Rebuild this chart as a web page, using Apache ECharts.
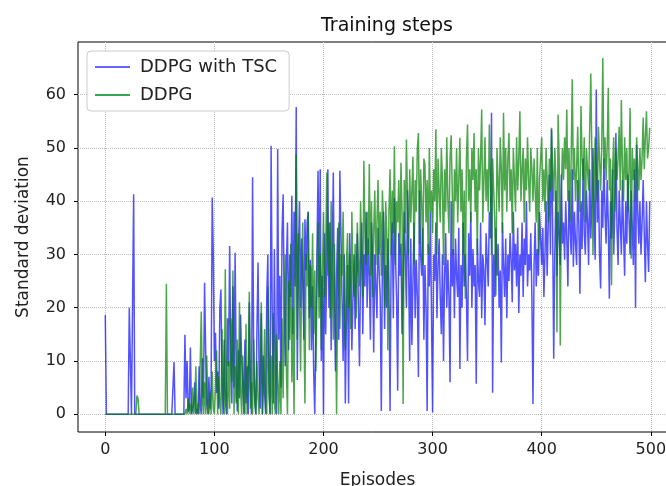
<!DOCTYPE html>
<html>
<head>
<meta charset="utf-8">
<script src="https://cdn.jsdelivr.net/npm/echarts@6/dist/echarts.min.js"></script>
<style>
  html,body{margin:0;padding:0;background:#fff;}
  #chart{width:666px;height:486px;}
</style>
</head>
<body>
<div id="chart"></div>
<script>
// one value per episode (0..499)
var tscValues = [
  18.6,0,0,0,0,0,0,0,0,0,
  0,0,0,0,0,0,0,0,0,0,
  0,0,20,19.8,0,0,41.3,0,0,0,
  0,0,0,0,0,0,0,0,0,0,
  0,0,0,0,0,0,0,0,0,0,
  0,0,0,0,0,0,0,0,0,0,
  0,0,0,9.8,0,0,0,0,0,0,
  0,0,0,14.9,3,10,0.5,1,12.5,0,
  0,2,6,0,1,0,9,1.5,0,10.5,
  3,24.7,12,2,0,7,1,5,40.7,30,
  10,15.3,4,8,1,20,23.4,6,0,14,
  3,0,18,9,31.6,11,2,24,5,30.3,
  8,0.5,12,3,18.7,10,6,0,14,2,
  9,0,21,5,0,44.5,12,3,0,16,
  28.5,8,1,19,0,11,4,0,22,30,
  6,0,50.4,19,2,31,8,0,49.8,14,
  26,5,34,41.3,20,9,28,36,12,30,
  22,41,15,38,24,57.7,6.4,30,40,20,
  33,25,14,36.6,27,36,38,18,29,12,
  24,8,0,0,30,45.7,22,46,10,26,
  0,34,15,28,46,20,36,12,30,45.4,
  20,8,26,35,14,45.7,45.6,22,10,30,
  2,18,28,2,34,25,12,22,30,16,
  26,34,20,9,28,36,15,30,24,38,
  20,33,26,14,36,28,11.6,30,24,18,
  35,27,22,0.6,30,38,16,28,20,33,
  24,0.6,30,36,18,40.6,29,22,4.4,34,
  26,32,15,24,38,30,20,42,28,10,
  33,13,25,36,18,29,22,7,42,30,
  26,35,14,28,20,0.6,32,24,38,18,
  0.3,30,25,36,18,28,33,22,15,30,
  10,26,34,20,29,22,6,40,24,31,
  18,33,26,22,35,8.5,28,20,36,24,
  30,22,10,34,26,38,20,31,24,28,
  5.7,33,25,22,36,18,30,27,16.7,34,
  29,24,38,33,56.6,4,30,22,35,26,
  32,20,27,9.7,36,28,22,33,18,30,
  25,34,29,21,38,27,32,24,35,19,
  30,26,36,22,33,28,40,24,30,27,
  34,22,1.9,28,36,24,31,26,38,33,
  28,35,22,30,40,26,36,45,30,53.5,
  36,10.4,30,42,26,38,34,28,45,32,
  36,29,40,33,24,42,35,30,46,27.7,
  38,32,28,44,36,22.6,40,31,48,34,
  30,42,36,28,46,33,40,50,38,29,
  61,36,44,30,23.6,42,35,48,38,32,
  44,36,21.7,40,33,46,30,38,52.8,35,
  28,42,36,30,44,34,26,40,32,45,
  37,30,42,35,28,46,20,50.6,38,32,
  40,30,36,44,34,24.8,40,32,26.7,40
];

var ddpgValues = [
  0,0,0,0,0,0,0,0,0,0,
  0,0,0,0,0,0,0,0,0,0,
  0,0,0,0,0,0,0,0,0,3.5,
  3,0,0,0,0,0,0,0,0,0,
  0,0,0,0,0,0,0,0,0,0,
  0,0,0,0,0,0,24.5,0,0,0,
  0,0,0,0,0,0,0,0,0,0,
  0,0,0,0,1,0,3,0,2,0,
  5,0,1,9,0,2,0,0,19.3,3,
  0,6,0,11,2,0,4,0,8,1,
  0,5,12,0,7,2,0,16,3,0,
  27.2,4,0,10,1,18,6,27,0,9,
  2,14,0,21,5,0,11,3,0,17,
  0,8,23,1,6,0,14,2,0,10,
  3,0,12,21,0,5,16,1,0,24,
  4,0,11,0,19,2,0,15,6,0,
  10,0,18,3,22,30,8,0,25,14,
  32,6,20,0,28,48.9,14,34,22,8,
  26,36,18,2,30,24,38,12,28,20,
  34,15,27,8,22,36,18,30,12,26,
  38,22,30,45.4,26,36,18,40,28,14,
  32,20,0,24,36,16,30,26,38,22,
  12,28,34,20,30,16,38,26,22,32,
  18,36,28,24,40,30,22,47.6,34,28,
  38,30,47,26,40,22,34,42,28,36,
  44,30,38,26,42,36,20,40,34,12,
  38,46,30,42,34,50.3,28,40,36,44,
  30,47.2,38,1.9,44,34,51.6,40,30,46,
  36,42,48.4,28,44,38,50,52.8,32,46,
  40,28,48,46.9,36,44,30,50,38,42,
  34,46,40,53.5,30,48,42,36,50,44,
  28,46,38,52,40,34,48,52.4,42,30,
  46,40,50,36,44,51.9,38,46,30,42,
  21.7,48,54.4,40,46,36,50,44,52.8,38,
  46,30,50,42,48,57.2,36,44,52,40,
  46,38,54.4,44,30,48,42,36,22.3,50,
  44,38,52,46,34,56.6,42,50,38,48,
  52.8,40,46,34,50,44,38,52,42,48,
  56.9,40,46,50,36,48,42,52,44,38,
  50,46,40,48,42,36,50,30,44,48,
  52,40,46,38,50,44,36,48,42,53.8,
  46,40,50,44,15.4,56.3,48,12.9,42,50,
  44,52,46,57.2,40,50,36,48,62.9,44,
  50,40,46,54,42,38,57.9,48,44,52,
  36,50,46,42,54,64,48,29.9,44,52,
  46,40,54,48,42,50,66.9,46,52,44,
  50,61.3,42,48,24.2,46,52,38,50,44,
  48,54,42,59,46,40,52,44,50,38,
  46,57.5,29.2,50,44,48,40,52,46,42,
  50,44,48,55.7,46,52,56.9,48,50,53.8
];

var xTicks = [0, 100, 200, 300, 400, 500];
var yTicks = [0, 10, 20, 30, 40, 50, 60];
var seriesNames = ['DDPG with TSC', 'DDPG'];

var chart = echarts.init(document.getElementById('chart'));

function pairs(arr) {
  return arr.map(function (v, i) { return [i, v]; });
}

var font = 'DejaVu Sans';

chart.setOption({
  animation: false,
  backgroundColor: '#fff',
  textStyle: { fontFamily: font },
  title: {
    text: 'Training steps',
    left: 316,
    top: 12,
    textStyle: { fontFamily: font, fontSize: 19, fontWeight: 'normal', color: '#111' }
  },
  legend: {
    orient: 'vertical',
    left: 87,
    top: 51,
    padding: [7, 12, 7, 8],
    itemGap: 10,
    itemWidth: 35,
    itemHeight: 2,
    icon: 'rect',
    backgroundColor: '#fff',
    borderColor: '#ccc',
    borderWidth: 1,
    borderRadius: 4,
    textStyle: { fontFamily: font, fontSize: 18, color: '#222', padding: [0, 0, 0, 5] },
    data: seriesNames
  },
  grid: {
    left: 78,
    top: 42,
    width: 599,
    height: 390,
    containLabel: false,
    outerBoundsMode: 'none',
    show: true,
    borderColor: '#000',
    borderWidth: 1,
    backgroundColor: 'transparent'
  },
  xAxis: {
    type: 'value',
    min: -25,
    max: 524,
    name: 'Episodes',
    nameLocation: 'middle',
    nameGap: 40,
    nameTextStyle: { fontFamily: font, fontSize: 17, color: '#222' },
    axisLine: { show: false, onZero: false },
    axisTick: { show: true, customValues: xTicks, length: 4, lineStyle: { color: '#000' } },
    axisLabel: { customValues: xTicks, fontSize: 16, color: '#222', margin: 10 },
    splitLine: { show: true, lineStyle: { type: 'dotted', color: '#bdbdbd', width: 1 } }
  },
  yAxis: {
    type: 'value',
    min: -3.35,
    max: 69.9,
    name: 'Standard deviation',
    nameLocation: 'middle',
    nameGap: 46,
    nameTextStyle: { fontFamily: font, fontSize: 17, color: '#222' },
    axisLine: { show: false, onZero: false },
    axisTick: { show: true, customValues: yTicks, length: 4, lineStyle: { color: '#000' } },
    axisLabel: { customValues: yTicks, fontSize: 16, color: '#222', margin: 12 },
    splitLine: { show: true, lineStyle: { type: 'dotted', color: '#bdbdbd', width: 1 } }
  },
  series: [
    {
      name: seriesNames[0],
      type: 'line',
      data: pairs(tscValues),
      showSymbol: false,
      symbol: 'none',
      color: 'rgba(60,60,255,0.8)',
      lineStyle: { width: 1.5, color: 'rgba(0,0,255,0.68)' }
    },
    {
      name: seriesNames[1],
      type: 'line',
      data: pairs(ddpgValues),
      showSymbol: false,
      symbol: 'none',
      color: 'rgba(20,150,60,0.85)',
      lineStyle: { width: 1.5, color: 'rgba(0,128,0,0.7)' }
    }
  ]
});
</script>
</body>
</html>
